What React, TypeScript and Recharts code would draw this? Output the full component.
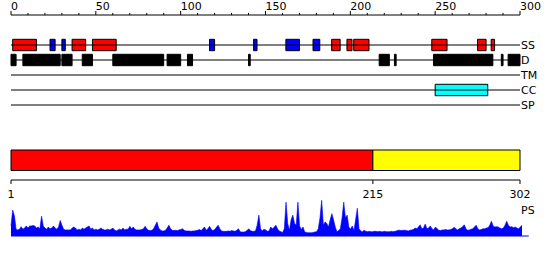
import {
  ComposedChart,
  AreaChart,
  Area,
  Line,
  XAxis,
  YAxis,
  ReferenceLine,
  ReferenceArea,
} from 'recharts';

const FONT = '"DejaVu Sans", sans-serif';

// feature tracks, top to bottom
const trackNames = ['SS', 'D', 'TM', 'CC', 'SP'];

// secondary structure: helix (red) / strand (blue)
const ssHelix: [number, number][] = [
  [1, 15], [36, 44], [48, 62], [189, 194], [198, 201], [202, 211],
  [248, 257], [275, 280], [283, 285],
];
const ssStrand: [number, number][] = [
  [23, 26], [30, 32], [117, 120], [143, 145], [162, 170], [178, 182],
];
// disorder
const disorder: [number, number][] = [
  [0, 3], [7, 29], [30, 36], [42, 48], [60, 90], [92, 100], [104, 107],
  [140, 141], [217, 223], [226, 227], [249, 284], [289, 290], [293, 300],
];
const transmembrane: [number, number][] = [];
const coiledCoil: [number, number][] = [[250, 281]];
const signalPeptide: [number, number][] = [];

const topTicks = [
  0, 10, 20, 30, 40, 50, 60, 70, 80, 90, 100, 110, 120, 130, 140, 150,
  160, 170, 180, 190, 200, 210, 220, 230, 240, 250, 260, 270, 280, 290, 300,
];

// domain split
const domainBounds = [1, 215, 302];
const domainColors = ['#ff0000', '#ffff00'];

// PS score per residue
const psScores = [
  0.28, 0.72, 0.56, 0.19, 0.17, 0.19, 0.26, 0.19, 0.22, 0.28,
  0.22, 0.28, 0.28, 0.29, 0.28, 0.22, 0.25, 0.2, 0.55, 0.28,
  0.22, 0.19, 0.25, 0.2, 0.22, 0.28, 0.22, 0.19, 0.25, 0.43,
  0.3, 0.19, 0.17, 0.17, 0.17, 0.17, 0.22, 0.25, 0.22, 0.17,
  0.19, 0.17, 0.22, 0.19, 0.22, 0.25, 0.28, 0.19, 0.22, 0.17,
  0.19, 0.17, 0.19, 0.22, 0.19, 0.17, 0.17, 0.19, 0.17, 0.19,
  0.22, 0.17, 0.14, 0.17, 0.19, 0.17, 0.22, 0.17, 0.19, 0.19,
  0.27, 0.2, 0.25, 0.19, 0.17, 0.17, 0.17, 0.18, 0.2, 0.27,
  0.2, 0.16, 0.15, 0.16, 0.2, 0.3, 0.39, 0.22, 0.17, 0.14,
  0.14, 0.16, 0.22, 0.3, 0.2, 0.16, 0.15, 0.16, 0.15, 0.17,
  0.18, 0.2, 0.16, 0.14, 0.14, 0.14, 0.13, 0.14, 0.14, 0.15,
  0.16, 0.18, 0.15, 0.2, 0.25, 0.16, 0.2, 0.27, 0.18, 0.15,
  0.18, 0.24, 0.3, 0.2, 0.14, 0.13, 0.13, 0.13, 0.14, 0.13,
  0.15, 0.14, 0.13, 0.16, 0.2, 0.12, 0.11, 0.11, 0.12, 0.15,
  0.2, 0.15, 0.13, 0.13, 0.14, 0.3, 0.58, 0.2, 0.14, 0.19,
  0.17, 0.13, 0.14, 0.25, 0.2, 0.24, 0.3, 0.2, 0.14, 0.12,
  0.1, 0.2, 0.94, 0.35, 0.16, 0.45, 0.58, 0.35, 0.3, 0.94,
  0.28, 0.18, 0.25, 0.11, 0.1, 0.09, 0.09, 0.09, 0.1, 0.11,
  0.12, 0.2, 0.5, 0.99, 0.3, 0.39, 0.35, 0.25, 0.45, 0.62,
  0.45, 0.25, 0.12, 0.15, 0.2, 0.5, 0.94, 0.5, 0.58, 0.25,
  0.19, 0.28, 0.15, 0.45, 0.77, 0.2, 0.14, 0.12, 0.16, 0.13,
  0.12, 0.13, 0.12, 0.12, 0.13, 0.13, 0.12, 0.13, 0.12, 0.12,
  0.13, 0.12, 0.12, 0.12, 0.13, 0.12, 0.13, 0.14, 0.16, 0.16,
  0.15, 0.16, 0.16, 0.15, 0.14, 0.16, 0.17, 0.18, 0.22, 0.2,
  0.25, 0.31, 0.2, 0.22, 0.33, 0.2, 0.22, 0.28, 0.2, 0.17,
  0.25, 0.2, 0.16, 0.15, 0.17, 0.17, 0.18, 0.17, 0.17, 0.18,
  0.2, 0.24, 0.2, 0.17, 0.2, 0.22, 0.26, 0.31, 0.2, 0.16,
  0.17, 0.19, 0.2, 0.25, 0.3, 0.2, 0.17, 0.18, 0.2, 0.2,
  0.22, 0.23, 0.3, 0.41, 0.28, 0.25, 0.26, 0.25, 0.22, 0.2,
  0.22, 0.3, 0.41, 0.3, 0.25, 0.26, 0.23, 0.25, 0.22, 0.2,
  0.25, 0.3,
];

const psData = psScores.map((v, i) => ({ pos: i + 1, ps: v }));

// one row per track end, each track on its own level, ruler on level -2
const trackData = [0, 300].map((pos) => {
  const row: Record<string, number> = { pos, ruler: -2 };
  trackNames.forEach((n, i) => (row[n] = i));
  return row;
});

// ruler tick marks as broken line pieces (null = gap)
const rulerTickData = topTicks.flatMap((t) => [
  { pos: t, tk: -2 },
  { pos: t, tk: t % 50 === 0 ? -2.27 : -2.14 },
  { pos: t, tk: null },
]);

const domainData = domainBounds.map((pos) => ({ pos, base: 0 }));
const domainTickData = domainBounds.flatMap((t) => [
  { pos: t, tk: 0 },
  { pos: t, tk: -0.4 },
  { pos: t, tk: null },
]);

// all boxes with their track row and colour
const featureBoxes = [
  ...ssHelix.map(([s, e]) => ({ s, e, row: 0, fill: '#ff0000' })),
  ...ssStrand.map(([s, e]) => ({ s, e, row: 0, fill: '#0000ff' })),
  ...disorder.map(([s, e]) => ({ s, e, row: 1, fill: '#000000' })),
  ...transmembrane.map(([s, e]) => ({ s, e, row: 2, fill: '#ff00ff' })),
  ...coiledCoil.map(([s, e]) => ({ s, e, row: 3, fill: '#00ffff' })),
  ...signalPeptide.map(([s, e]) => ({ s, e, row: 4, fill: '#00ff00' })),
];

function TopTick(props: any) {
  const { x, y, payload } = props;
  if (payload.value % 50 !== 0) return <g />;
  return (
    <text x={x} y={y} textAnchor="start" fontSize={11} fontFamily={FONT} fill="#000">
      {payload.value}
    </text>
  );
}

export default function App() {
  return (
    <div>
      {/* feature tracks */}
      <div style={{ position: 'absolute', left: 0, top: 0 }}>
        <ComposedChart
          width={550}
          height={120}
          data={trackData}
          margin={{ top: 0, right: 30, left: 11, bottom: 0 }}
        >
          <XAxis
            dataKey="pos"
            type="number"
            orientation="top"
            domain={[0, 300]}
            ticks={topTicks}
            interval={0}
            height={10}
            tickSize={0}
            tickMargin={0}
            tickLine={false}
            axisLine={false}
            tick={<TopTick />}
          />
          <YAxis type="number" domain={[-7 / 3, 5]} reversed hide />
          <Line
            dataKey="ruler"
            stroke="#000"
            strokeWidth={1}
            dot={false}
            activeDot={false}
            isAnimationActive={false}
          />
          <Line
            data={rulerTickData}
            dataKey="tk"
            stroke="#000"
            strokeWidth={1}
            dot={false}
            activeDot={false}
            connectNulls={false}
            isAnimationActive={false}
          />
          {trackNames.map((name) => (
            <Line
              key={name}
              dataKey={name}
              type="linear"
              stroke="#000"
              strokeWidth={1}
              dot={false}
              activeDot={false}
              isAnimationActive={false}
            />
          ))}
          {trackNames.map((name, i) => (
            <ReferenceLine
              key={name}
              y={i}
              stroke="none"
              label={{ value: name, position: 'right', offset: 1, fill: '#000', fontSize: 11, fontFamily: FONT }}
            />
          ))}
          {featureBoxes.map((b, i) => (
            <ReferenceArea
              key={i}
              x1={b.s}
              x2={b.e}
              y1={b.row - 0.38}
              y2={b.row + 0.38}
              fill={b.fill}
              fillOpacity={1}
              stroke="#000"
              strokeWidth={1}
            />
          ))}
        </ComposedChart>
      </div>

      {/* domain bar */}
      <div style={{ position: 'absolute', left: 0, top: 140 }}>
        <ComposedChart
          width={550}
          height={62}
          data={domainData}
          margin={{ top: 10, right: 30, left: 11, bottom: 0 }}
        >
          <XAxis
            dataKey="pos"
            type="number"
            domain={[1, 302]}
            ticks={domainBounds}
            interval={0}
            height={16}
            tickSize={0}
            tickMargin={4}
            axisLine={false}
            tickLine={false}
            tick={{ fill: '#000', fontSize: 11, fontFamily: FONT }}
          />
          <YAxis type="number" domain={[-0.6, 3]} hide />
          {domainColors.map((c, i) => (
            <ReferenceArea
              key={i}
              x1={domainBounds[i]}
              x2={domainBounds[i + 1]}
              y1={0.95}
              y2={3}
              fill={c}
              fillOpacity={1}
              stroke="#000"
              strokeWidth={1}
            />
          ))}
          <Line
            dataKey="base"
            stroke="#000"
            strokeWidth={1}
            dot={false}
            activeDot={false}
            isAnimationActive={false}
          />
          <Line
            data={domainTickData}
            dataKey="tk"
            stroke="#000"
            strokeWidth={1}
            dot={false}
            activeDot={false}
            connectNulls={false}
            isAnimationActive={false}
          />
        </ComposedChart>
      </div>

      {/* PS profile */}
      <div style={{ position: 'absolute', left: 0, top: 196 }}>
        <AreaChart
          width={550}
          height={44}
          data={psData}
          margin={{ top: 4, right: 28, left: 11, bottom: 4 }}
        >
          <XAxis dataKey="pos" type="number" domain={[1, 302]} hide />
          <YAxis type="number" domain={[0, 1]} hide />
          <Area
            type="linear"
            dataKey="ps"
            stroke="#0000ff"
            strokeWidth={0.6}
            fill="#0000ff"
            fillOpacity={1}
            isAnimationActive={false}
            dot={false}
            activeDot={false}
          />
          <ReferenceLine
            segment={[{ x: 1, y: 0 }, { x: 306, y: 0 }]}
            stroke="#0000ff"
            strokeWidth={1}
            ifOverflow="visible"
          />
        </AreaChart>
      </div>
      <span
        style={{ position: 'absolute', left: 521, top: 204, fontSize: 11, lineHeight: '13px', color: '#000', fontFamily: FONT }}
      >
        PS
      </span>
    </div>
  );
}
